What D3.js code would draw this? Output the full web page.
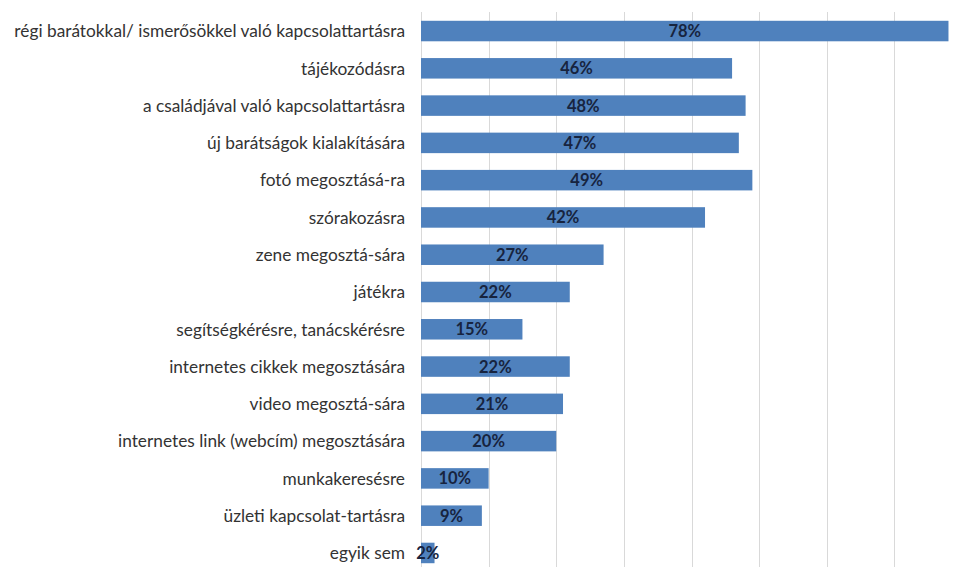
<!DOCTYPE html>
<html>
<head>
<meta charset="utf-8">
<script src="https://cdn.jsdelivr.net/npm/d3@7"></script>
<style>
  html, body { margin: 0; padding: 0; background: #ffffff; }
  svg { display: block; }
</style>
</head>
<body>
<svg id="chart" width="953" height="567"></svg>
<script>
// Purposes of social network use (share of respondents)
const categories = [
  "régi barátokkal/ ismerősökkel való kapcsolattartásra",
  "tájékozódásra",
  "a családjával való kapcsolattartásra",
  "új barátságok kialakítására",
  "fotó megosztásá-ra",
  "szórakozásra",
  "zene megosztá-sára",
  "játékra",
  "segítségkérésre, tanácskérésre",
  "internetes cikkek megosztására",
  "video megosztá-sára",
  "internetes link (webcím) megosztására",
  "munkakeresésre",
  "üzleti kapcsolat-tartásra",
  "egyik sem"
];
const values = [0.78, 0.46, 0.48, 0.47, 0.49, 0.42, 0.27, 0.22, 0.15, 0.22, 0.21, 0.20, 0.10, 0.09, 0.02];
const gridTicks = [0, 0.1, 0.2, 0.3, 0.4, 0.5, 0.6, 0.7, 0.8];

const svg = d3.select("#chart");
const W = 953, H = 567;

const x = d3.scaleLinear().domain([0, 0.8]).range([421, 962]);
const y = d3.scaleBand().domain(categories).range([12.4, 571.6])
  .paddingInner(0.45).paddingOuter(0.225);

// vertical gridlines
svg.append("g").selectAll("line").data(gridTicks).join("line")
  .attr("x1", d => Math.round(x(d)) + 0.5)
  .attr("x2", d => Math.round(x(d)) + 0.5)
  .attr("y1", 12).attr("y2", H)
  .attr("stroke", "#d9d9d9").attr("stroke-width", 1);

// bars
const data = categories.map((c, i) => ({ c, v: values[i] }));
svg.append("g").selectAll("rect").data(data).join("rect")
  .attr("x", x(0))
  .attr("y", d => y(d.c))
  .attr("width", d => x(d.v) - x(0))
  .attr("height", y.bandwidth())
  .attr("fill", "#4f81bd");

// value labels centred in each bar
svg.append("g").selectAll("text").data(data).join("text")
  .attr("x", d => (x(0) + x(d.v)) / 2)
  .attr("y", d => y(d.c) + y.bandwidth() / 2)
  .attr("dy", "0.36em")
  .attr("text-anchor", "middle")
  .attr("font-family", "Lato, 'Open Sans', sans-serif")
  .attr("font-weight", "bold")
  .attr("font-size", 16.5)
  .attr("fill", "#17243f")
  .text(d => d3.format(".0%")(d.v));

// category axis labels
svg.append("g").selectAll("text").data(categories).join("text")
  .attr("x", 405)
  .attr("y", d => y(d) + y.bandwidth() / 2)
  .attr("dy", "0.36em")
  .attr("text-anchor", "end")
  .attr("font-family", "Lato, 'Open Sans', sans-serif")
  .attr("font-size", 17.3)
  .attr("fill", "#333333")
  .text(d => d);
</script>
</body>
</html>
